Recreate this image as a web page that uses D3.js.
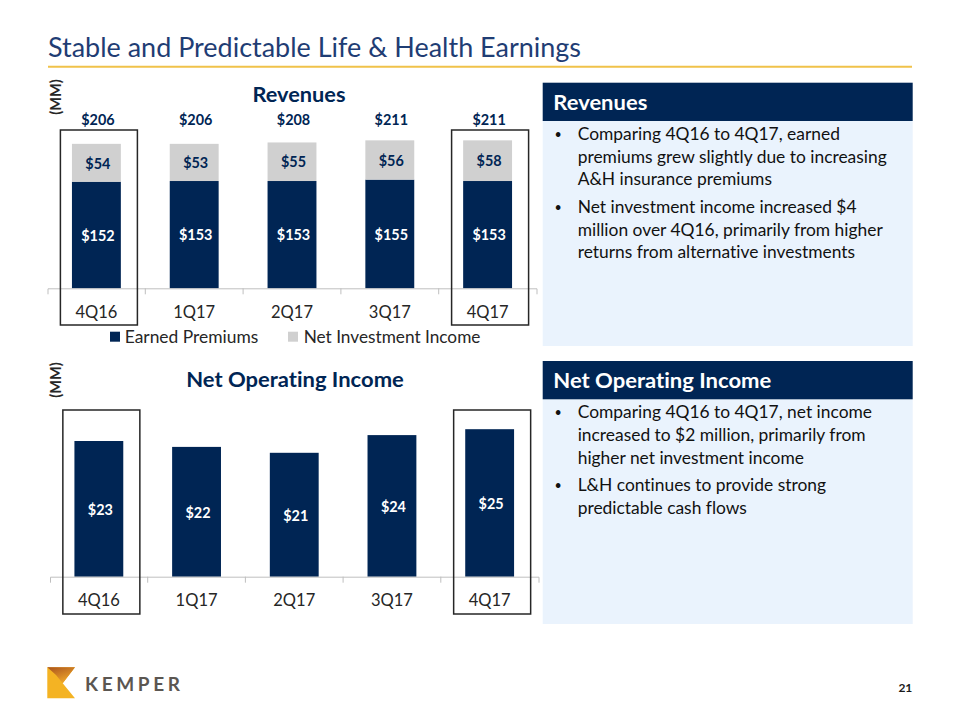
<!DOCTYPE html>
<html><head><meta charset="utf-8">
<script src="https://cdn.jsdelivr.net/npm/d3@7"></script>
<style>body{margin:0;background:#fff} svg{display:block} text{font-family:Lato,"Open Sans",sans-serif;font-variant-ligatures:none;font-feature-settings:"liga" 0,"clig" 0}</style>
</head><body><svg id="c" width="960" height="720"></svg>
<script>
// ---------- data ----------
const quarters = ["4Q16","1Q17","2Q17","3Q17","4Q17"];
const earnedPremiums = [152,153,153,155,153];
const netInvestmentIncome = [54,53,55,56,58];
const revenueTotals = [206,206,208,211,211];
const netOperatingIncome = [23,22,21,24,25];
const highlighted = ["4Q16","4Q17"];
const seriesNames = ["Earned Premiums","Net Investment Income"];
const pageTitle = "Stable and Predictable Life & Health Earnings";
const revenueBullets = [
  ["Comparing 4Q16 to 4Q17, earned","premiums grew slightly due to increasing","A&H insurance premiums"],
  ["Net investment income increased $4","million over 4Q16, primarily from higher","returns from alternative investments"]
];
const noiBullets = [
  ["Comparing 4Q16 to 4Q17, net income","increased to $2 million, primarily from","higher net investment income"],
  ["L&H continues to provide strong","predictable cash flows"]
];

// ---------- styles ----------
const NAVY = "#002554", GRAY = "#d0d0d0", AXIS = "#bfbfbf", TXT = "#262626",
      PANEL = "#eaf3fd", TITLE = "#1f3d74", GOLD = "#f0c24a";

const svg = d3.select("#c");
function fit(sel, w, adj){ sel.attr("textLength", w).attr("lengthAdjust", adj || "spacingAndGlyphs"); return sel; }
function condense(sel, r){ sel.each(function(){ const L=this.getComputedTextLength(); d3.select(this).attr("textLength", L*r).attr("lengthAdjust","spacingAndGlyphs"); }); return sel; }

// ---------- page title ----------
fit(svg.append("text").attr("x",48).attr("y",57.3).attr("font-size",26).attr("fill",TITLE).text(pageTitle), 533);
svg.append("line").attr("x1",48).attr("x2",912).attr("y1",66.7).attr("y2",66.7).attr("stroke",GOLD).attr("stroke-width",2);

// ---------- helpers ----------
function drawAxis(g, x, y0, labelPad){
  const ax = d3.axisBottom(x).tickSizeInner(0).tickSizeOuter(6).tickPadding(labelPad);
  const a = g.append("g").attr("transform",`translate(0,${y0})`).call(ax);
  a.select(".domain").attr("stroke",AXIS);
  a.selectAll(".tick text").attr("font-size",16.5).attr("fill",TXT).attr("font-family","Lato");
  quarters.slice(1).forEach(q=>{
    const bx = x(q) - x.step()*x.paddingInner()/2;
    a.append("line").attr("x1",bx).attr("x2",bx).attr("y1",0).attr("y2",6).attr("stroke",AXIS);
  });
}
function drawBoxes(g, x, yTop, yBot){
  g.selectAll(null).data(highlighted).join("rect")
    .attr("x", d=>x(d)+x.bandwidth()/2+2.5-38.5).attr("width",77)
    .attr("y", yTop).attr("height", yBot-yTop)
    .attr("fill","none").attr("stroke",TXT).attr("stroke-width",1.5);
}
const LBL = 16, LBLR = 0.9, LDX = 1.5;

// ---------- Revenues chart ----------
const g1 = svg.append("g");
const x1 = d3.scaleBand().domain(quarters).range([47.5,536.5]).paddingInner(0.5).paddingOuter(0.25);
const y1 = d3.scaleLinear().domain([0,250]).range([288.3,113]);
const revRows = quarters.map((q,i)=>({q, ep:earnedPremiums[i], nii:netInvestmentIncome[i], total:revenueTotals[i]}));
const stack = d3.stack().keys(["ep","nii"])(revRows);
const colors = {ep:NAVY, nii:GRAY};
g1.selectAll("g.s").data(stack).join("g").attr("fill",d=>colors[d.key])
  .selectAll("rect").data(d=>d).join("rect")
  .attr("x",d=>x1(d.data.q)).attr("width",x1.bandwidth())
  .attr("y",d=>y1(d[1])).attr("height",d=>y1(d[0])-y1(d[1]));
stack.forEach(s=>{
  g1.selectAll(null).data(s).join("text")
    .attr("x",d=>x1(d.data.q)+x1.bandwidth()/2+LDX).attr("y",d=>(y1(d[0])+y1(d[1]))/2)
    .attr("dy","0.36em").attr("text-anchor","middle").attr("font-weight",700).attr("font-size",LBL)
    .attr("fill", s.key==="ep" ? "#fff" : NAVY).text(d=>"$"+(d[1]-d[0]))
    .call(condense,LBLR);
});
g1.selectAll(null).data(revRows).join("text")
  .attr("x",d=>x1(d.q)+x1.bandwidth()/2+LDX).attr("y", y1(d3.max(revenueTotals))-21.5)
  .attr("dy","0.36em").attr("text-anchor","middle").attr("font-weight",700).attr("font-size",LBL)
  .attr("fill",NAVY).text(d=>"$"+d.total).call(condense,LBLR);
drawAxis(g1, x1, 288.3, 18);
drawBoxes(g1, x1, 130, 325);
fit(g1.append("text").attr("x",299).attr("y",101.7).attr("text-anchor","middle").attr("font-weight",700)
  .attr("font-size",20).attr("fill",NAVY).text("Revenues"), 93);
g1.append("text").attr("transform","translate(55.8,97) rotate(-90)").attr("text-anchor","middle")
  .attr("dy","0.36em").attr("font-weight",700).attr("font-size",14.5).attr("fill",TXT).text("(MM)");
// legend
const legX = [110, 288], legTX = [124.7, 303.7], legW = [133.6, 176.7];
seriesNames.forEach((n,i)=>{
  g1.append("rect").attr("x",legX[i]).attr("y",331.7).attr("width",10).attr("height",10).attr("fill",i?GRAY:NAVY);
  fit(g1.append("text").attr("x",legTX[i]).attr("y",342.5).attr("font-size",16.5).attr("fill",TXT).text(n), legW[i]);
});

// ---------- Net Operating Income chart ----------
const g2 = svg.append("g");
const x2 = d3.scaleBand().domain(quarters).range([50,538.5]).paddingInner(0.5).paddingOuter(0.25);
const y2 = d3.scaleLinear().domain([0,30]).range([576.7,399.7]);
const noiRows = quarters.map((q,i)=>({q, v:netOperatingIncome[i]}));
g2.selectAll("rect.b").data(noiRows).join("rect").attr("class","b")
  .attr("x",d=>x2(d.q)).attr("width",x2.bandwidth())
  .attr("y",d=>y2(d.v)).attr("height",d=>y2(0)-y2(d.v)).attr("fill",NAVY);
g2.selectAll(null).data(noiRows).join("text")
  .attr("x",d=>x2(d.q)+x2.bandwidth()/2+LDX).attr("y",d=>(y2(0)+y2(d.v))/2)
  .attr("dy","0.36em").attr("text-anchor","middle").attr("font-weight",700).attr("font-size",LBL)
  .attr("fill","#fff").text(d=>"$"+d.v).call(condense,LBLR);
drawAxis(g2, x2, 576.7, 17.5);
drawBoxes(g2, x2, 410, 614);
fit(g2.append("text").attr("x",295).attr("y",387.3).attr("text-anchor","middle").attr("font-weight",700)
  .attr("font-size",20).attr("fill",NAVY).text("Net Operating Income"), 217.6);
g2.append("text").attr("transform","translate(55.8,380) rotate(-90)").attr("text-anchor","middle")
  .attr("dy","0.36em").attr("font-weight",700).attr("font-size",14.5).attr("fill",TXT).text("(MM)");

// ---------- right panels ----------
const BFS = 17.8;
const probe = svg.append("text").attr("font-size",BFS).text(revenueBullets[0][1]);
const bulletRatio = 309 / probe.node().getComputedTextLength();
probe.remove();
function panel(top, bodyBottom, title, titleW, bullets, firstBase){
  const g = svg.append("g");
  g.append("rect").attr("x",542.7).attr("y",top+38.3).attr("width",370).attr("height",bodyBottom-top-38.3).attr("fill",PANEL);
  g.append("rect").attr("x",542.7).attr("y",top).attr("width",370).attr("height",38.3).attr("fill",NAVY);
  fit(g.append("text").attr("x",553.3).attr("y",top+27.4).attr("font-weight",700).attr("font-size",21)
    .attr("fill","#fff").text(title), titleW);
  let yb = firstBase;
  bullets.forEach(lines=>{
    g.append("text").attr("x",554.5).attr("y",yb-1).attr("font-size",12.5).attr("fill","#111").text("•");
    lines.forEach(l=>{
      g.append("text").attr("x",577.7).attr("y",yb).attr("font-size",BFS).attr("fill","#111").text(l).call(condense,bulletRatio);
      yb += 22.6;
    });
    yb += 5.3;
  });
}
panel(82.7, 346, "Revenues", 94, revenueBullets, 140);
panel(361, 624, "Net Operating Income", 218, noiBullets, 418.3);

// ---------- logo & page number ----------
const defs = svg.append("defs");
const lg = defs.append("linearGradient").attr("id","lg").attr("x1","0").attr("y1","0").attr("x2","0.6").attr("y2","1");
lg.append("stop").attr("offset","0").attr("stop-color","#a9521d");
lg.append("stop").attr("offset","1").attr("stop-color","#f1a92b");
svg.append("polygon").attr("points","47.3,667.3 75,667.3 62.7,683.3 75,698.3 47.3,698.3").attr("fill","#f4b323");
svg.append("polygon").attr("points","47.3,667.3 75,667.3 62.7,683.3 56,675").attr("fill","url(#lg)");
fit(svg.append("text").attr("x",85).attr("y",691).attr("font-size",19).attr("font-weight",700)
  .attr("fill","#5b5651").text("KEMPER"), 95, "spacing");
svg.append("text").attr("x",912.3).attr("y",692).attr("text-anchor","end").attr("font-weight",700)
  .attr("font-size",12).attr("fill","#1a1a1a").text("21");
</script></body></html>
